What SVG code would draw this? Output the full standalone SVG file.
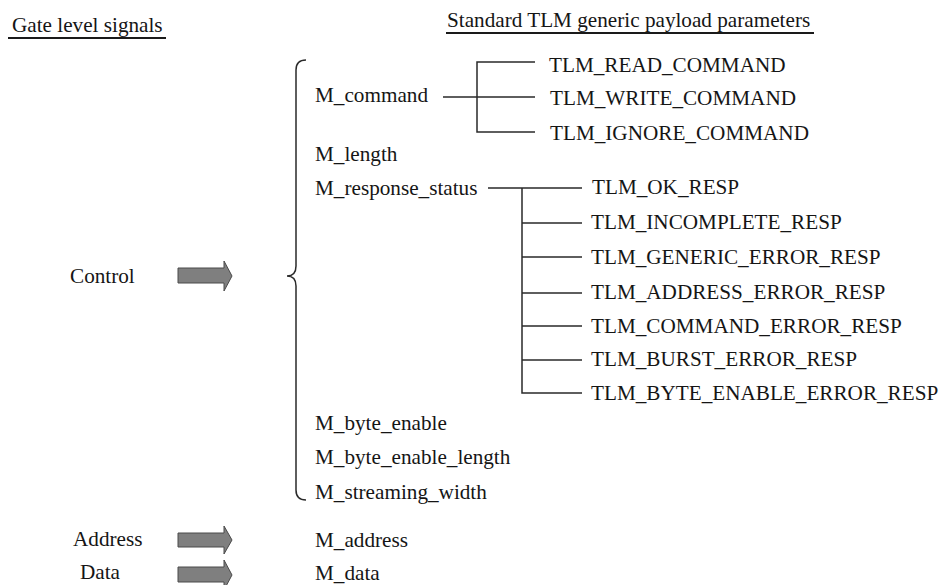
<svg xmlns="http://www.w3.org/2000/svg" width="943" height="585" viewBox="0 0 943 585">
<defs>
<style>
text{font-family:"Liberation Serif","Times New Roman",serif;font-size:21.2px;fill:#151515}
.ln{stroke:#2a2a2a;stroke-width:1.5;fill:none}
.ul{stroke:#1a1a1a;stroke-width:2;fill:none}
.arr{fill:#7f7f7f;stroke:#4a4a4a;stroke-width:1}
</style>
</defs>
<rect width="943" height="585" fill="#fff"/>
<g id="heading-gate">
<text x="12" y="32">Gate level signals</text>
<line class="ul" x1="8" y1="38" x2="166" y2="38"/>
</g>
<g id="heading-tlm">
<text x="447" y="27">Standard TLM generic payload parameters</text>
<line class="ul" x1="446" y1="33" x2="814" y2="33"/>
</g>
<g id="control"><text x="70" y="283">Control</text></g>
<g id="address"><text x="73" y="546">Address</text></g>
<g id="data"><text x="80" y="579">Data</text></g>
<g id="m_command"><text x="315" y="102">M_command</text></g>
<g id="m_length"><text x="315" y="161">M_length</text></g>
<g id="m_response_status"><text x="315" y="195">M_response_status</text></g>
<g id="m_byte_enable"><text x="315" y="430">M_byte_enable</text></g>
<g id="m_byte_enable_length"><text x="315" y="464">M_byte_enable_length</text></g>
<g id="m_streaming_width"><text x="315" y="499">M_streaming_width</text></g>
<g id="m_address"><text x="315" y="547">M_address</text></g>
<g id="m_data"><text x="315" y="580">M_data</text></g>
<g id="tlm_read"><text x="549" y="72">TLM_READ_COMMAND</text></g>
<g id="tlm_write"><text x="550" y="105">TLM_WRITE_COMMAND</text></g>
<g id="tlm_ignore"><text x="550" y="140">TLM_IGNORE_COMMAND</text></g>
<g id="tlm_ok"><text x="592" y="194">TLM_OK_RESP</text></g>
<g id="tlm_incomplete"><text x="591" y="229">TLM_INCOMPLETE_RESP</text></g>
<g id="tlm_generic"><text x="591" y="264">TLM_GENERIC_ERROR_RESP</text></g>
<g id="tlm_address"><text x="591" y="299">TLM_ADDRESS_ERROR_RESP</text></g>
<g id="tlm_command"><text x="591" y="333">TLM_COMMAND_ERROR_RESP</text></g>
<g id="tlm_burst"><text x="591" y="366">TLM_BURST_ERROR_RESP</text></g>
<g id="tlm_byte_enable"><text x="591" y="400">TLM_BYTE_ENABLE_ERROR_RESP</text></g>
<g id="connectors">
<polygon class="arr" points="178,268 224,268 224,261 232,276 224,291 224,283 178,283"/>
<polygon class="arr" points="178,533 224,533 224,526 232,540 224,554 224,547 178,547"/>
<polygon class="arr" points="178,567 224,567 224,560 232,575 224,590 224,582 178,582"/>
<path class="ln" d="M306 60 Q296 60 296 70 L296 266 Q296 276 287 276 Q296 276 296 286 L296 490 Q296 500 306 500"/>
<path class="ln" d="M443 97 H535 M535 62 H477 V132 H535"/>
<path class="ln" d="M488 188 H582 M522 188 V393 H582 M522 223 H582 M522 257 H582 M522 293 H582 M522 326 H582 M522 360 H582"/>
</g>
</svg>
